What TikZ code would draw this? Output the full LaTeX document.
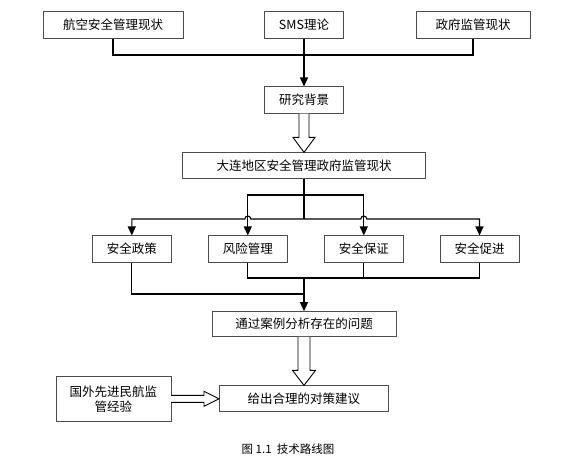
\documentclass[tikz,border=0pt]{standalone}
\usepackage{fontspec}
\setmainfont{Noto Sans CJK SC}
\usepackage{tikz}
\usetikzlibrary{arrows.meta,calc}
\tikzstyle{box}=[draw=black!70,line width=0.6pt,inner sep=0pt,font=\fontsize{12.5}{15}\selectfont]
\tikzstyle{line} = [draw,line width=1.1pt]
\tikzstyle{edge} = [draw,line width=1.1pt,-{Triangle[width=8pt,length=9pt]}]
\tikzstyle{hollow} = [draw,line width=0.9pt,fill=white,line join=miter]
% hollow arrow between two nodes, top to bottom
\newcommand\hollowdown[4]{%
  \path[hollow] let \p1=(#1.south), \p2=(#2.north) in
    (\x1-#3,\y1) -- (\x1-#3,\y2+15pt) -- (\x1-#4,\y2+15pt) -- (\x1,\y2)
    -- (\x1+#4,\y2+15pt) -- (\x1+#3,\y2+15pt) -- (\x1+#3,\y1);}

\begin{document}
\begin{tikzpicture}[x=1pt,y=-1pt]
    \useasboundingbox (0,0) rectangle (572,463);
    % First we draw the top row
    \node[box,minimum width=140,minimum height=26.5] (hk) at (113,25) {航空安全管理现状};
    \node[box,minimum width=79,minimum height=26.5] (sms) at (304,25) {SMS理论};
    \node[box,minimum width=114,minimum height=26.5] (zf) at (473,25) {政府监管现状};
    \node[box,minimum width=79,minimum height=26.5] (bj) at (304,100) {研究背景};
    \node[box,minimum width=243,minimum height=25.6] (dl) at (304,165.5) {大连地区安全管理政府监管现状};

    % the four elements
    \foreach \pos/ \name/ \txt in {{(131.8,249)/p1/安全政策},{(247.8,249)/p2/风险管理},
        {(363.8,249)/p3/安全保证},{(479.5,249)/p4/安全促进}}
        \node[box,minimum width=79,minimum height=26.5] (\name) at \pos {\txt};

    \node[box,minimum width=184,minimum height=25] (wt) at (304,324) {通过案例分析存在的问题};
    \node[box,minimum width=169,minimum height=26] (jy) at (303.8,398.7) {给出合理的对策建议};
    \node[box,minimum width=115,minimum height=44.3,align=center] (gw) at (113.3,398.8)
        {国外先进民航监\\管经验};
    \node[font=\fontsize{11.5}{13}\selectfont] (cap) at (288,449) {图\ 1.1\ \ 技术路线图};

    % Connect the top row
    \coordinate (t) at (304,55);
    \path[line] (hk.south) |- (t) -| (zf.south);
    \path[edge] (sms.south) -- (bj.north);
    \hollowdown{bj}{dl}{5pt}{11pt}

    % Split to the four elements
    \coordinate (m1) at (304,195);
    \coordinate (m2) at (304,219);
    \path[line] (dl.south) -- (m2);
    \path[edge] (m1) -| (p2.north);
    \path[edge] (m1) -| (p3.north);
    \path[edge] (m2) -- ($(p2.north |- m2)+(3pt,0)$) arc[start angle=0,end angle=180,radius=3pt] -| (p1.north);
    \path[edge] (m2) -- ($(p3.north |- m2)+(-3pt,0)$) arc[start angle=180,end angle=0,radius=3pt] -| (p4.north);

    % Join them again
    \coordinate (n1) at (304,278);
    \coordinate (n2) at (304,294);
    \path[line] (p2.south) |- (n1) -| (p4.south);
    \path[line] (p3.south) -- (p3.south |- n1);
    \path[line] (p1.south) |- (n2);
    \path[edge] (n1) -- (wt.north);
    \hollowdown{wt}{jy}{6pt}{11.5pt}

    % side input
    \path[hollow] let \p1=(gw.east), \p2=(jy.west) in
        (\x1,\y1+3.5pt) -- (\x2-15pt,\y1+3.5pt) -- (\x2-15pt,\y1+7.5pt) -- (\x2,\y1)
        -- (\x2-15pt,\y1-7.5pt) -- (\x2-15pt,\y1-3.5pt) -- (\x1,\y1-3.5pt);
\end{tikzpicture}
\end{document}
